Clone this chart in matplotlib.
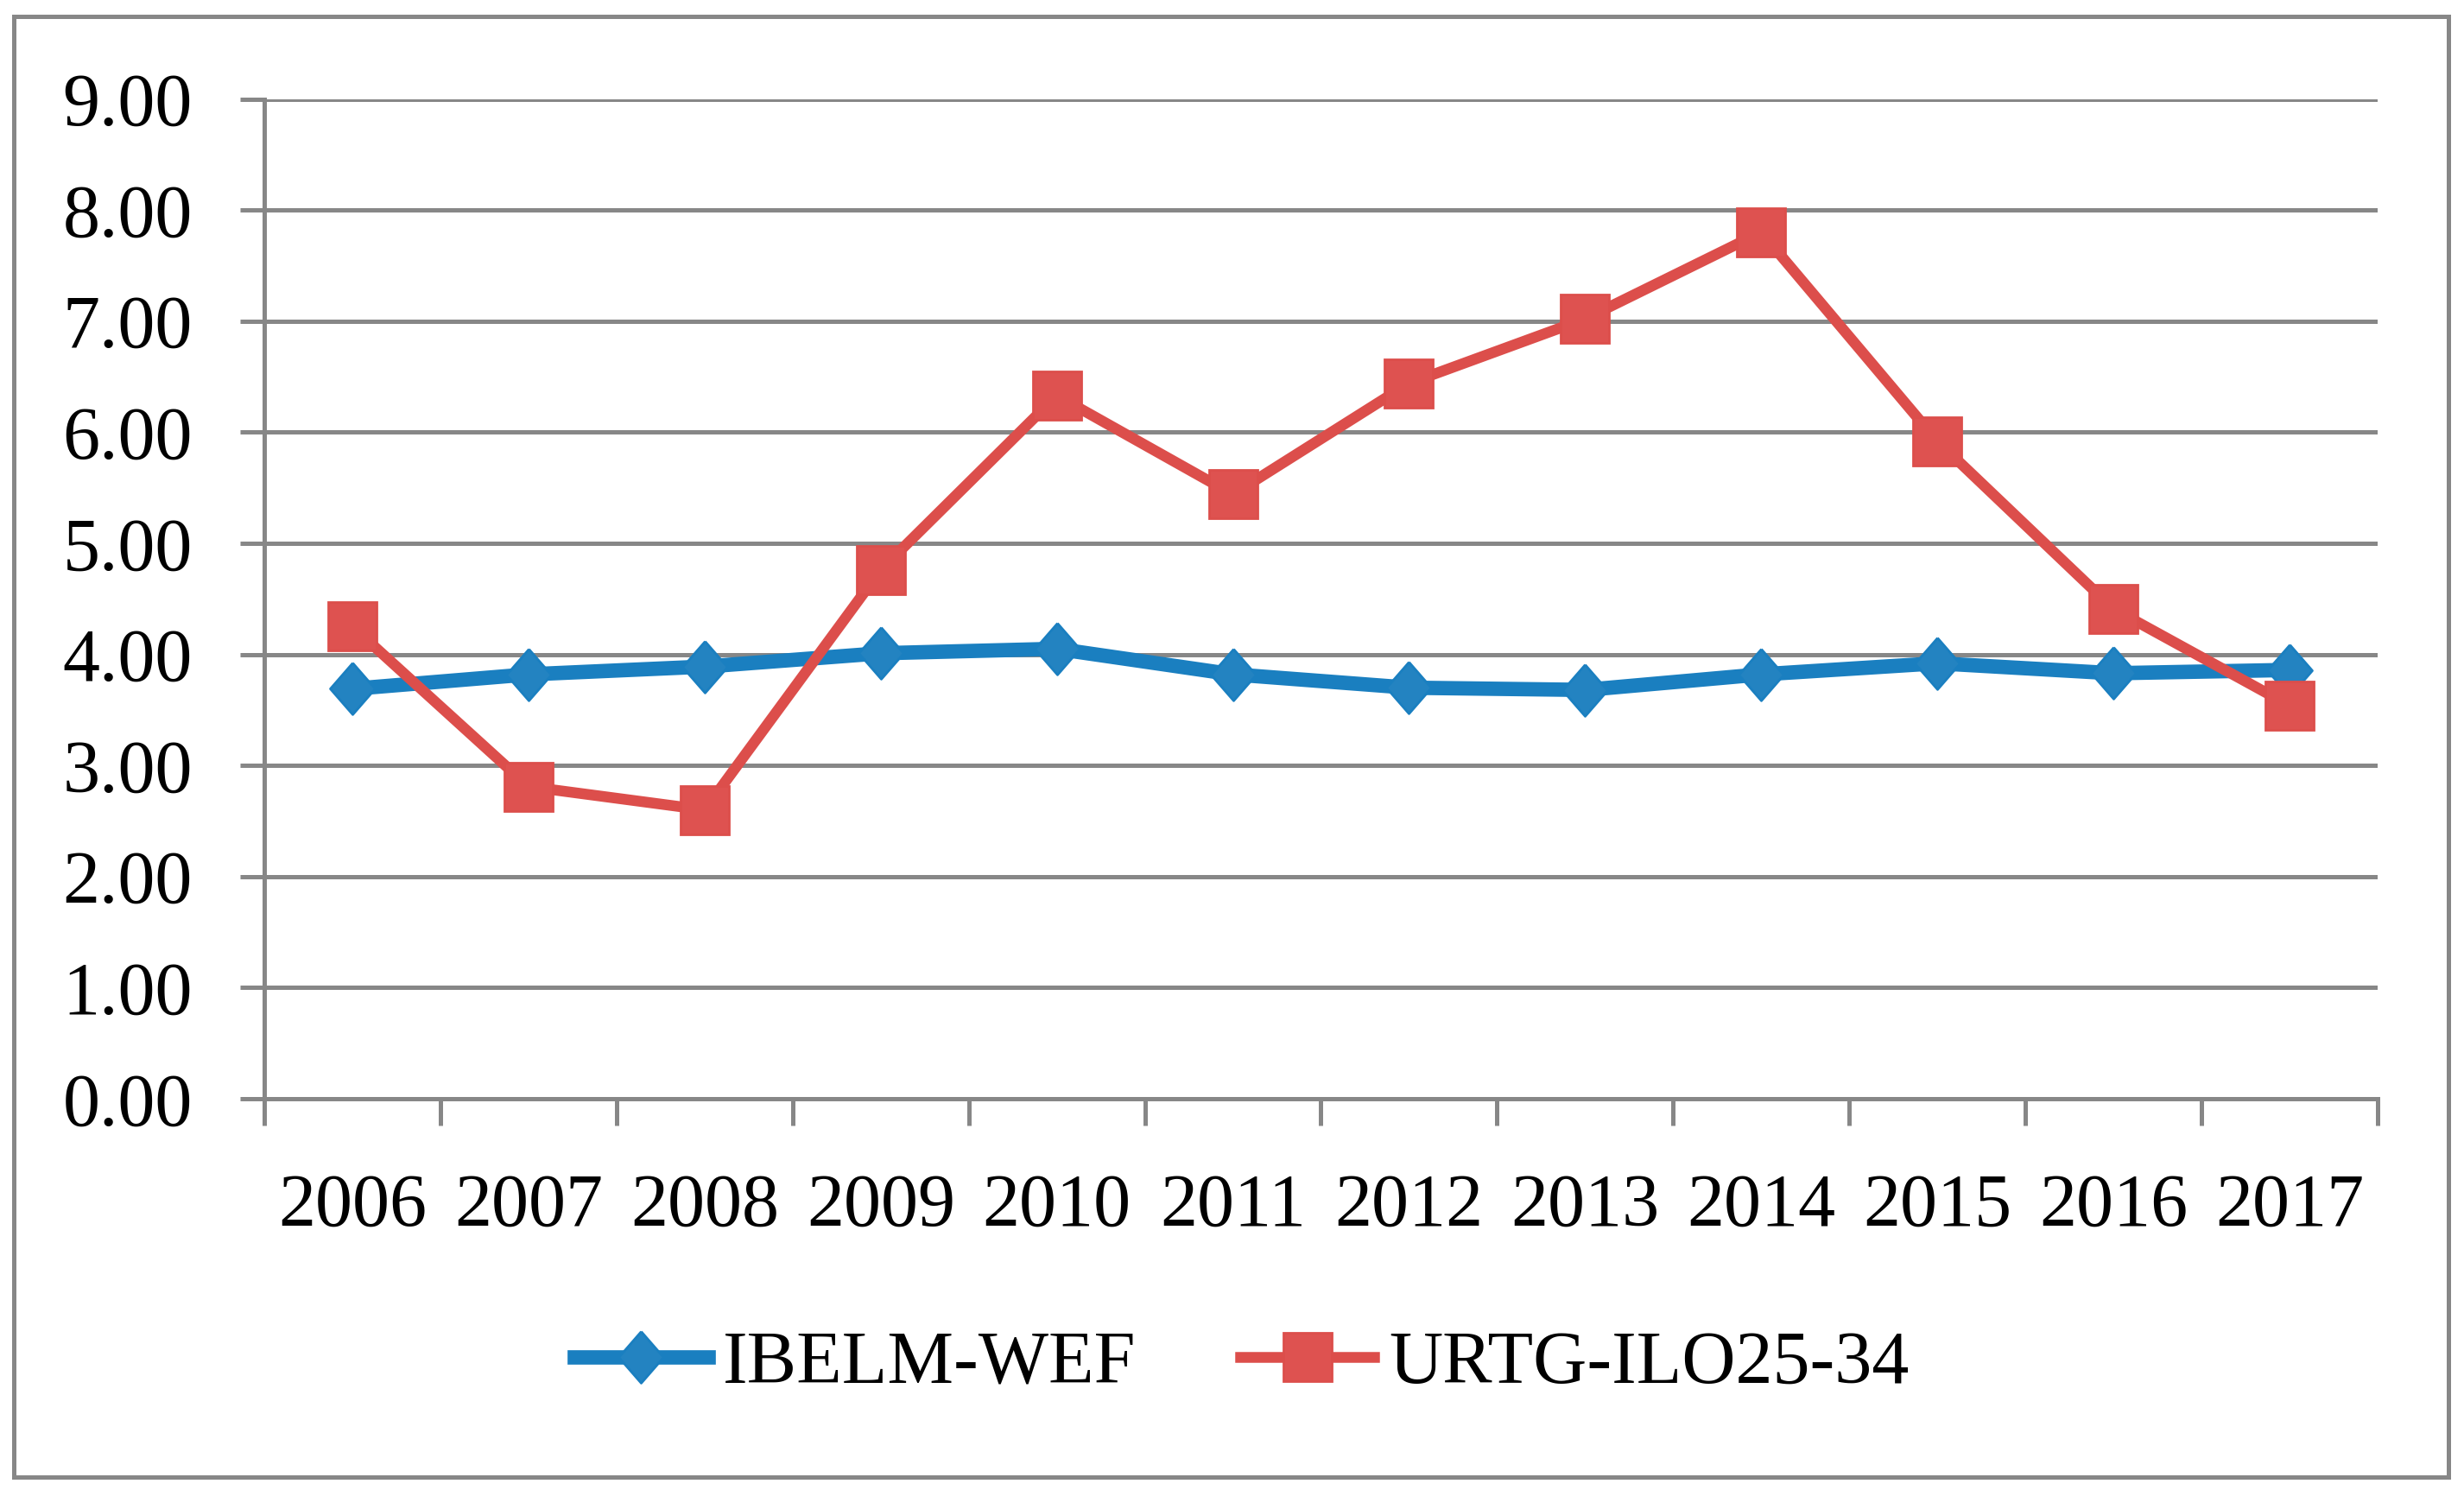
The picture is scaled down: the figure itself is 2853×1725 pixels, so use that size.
import matplotlib
matplotlib.use("Agg")
import matplotlib.pyplot as plt
from matplotlib.lines import Line2D
from matplotlib.patches import Rectangle

# data
years = ["2006", "2007", "2008", "2009", "2010", "2011",
         "2012", "2013", "2014", "2015", "2016", "2017"]
ibelm_wef = [3.69, 3.82, 3.89, 4.01, 4.05, 3.82, 3.70, 3.68, 3.82, 3.92, 3.83, 3.86]
urtg_ilo = [4.25, 2.81, 2.60, 4.76, 6.33, 5.44, 6.44, 7.02, 7.80, 5.92, 4.41, 3.54]
y_ticks = [0, 1, 2, 3, 4, 5, 6, 7, 8, 9]

blue = "#1a7fc0"
red = "#dc4e4b"
grey = "#878787"

plt.rcParams["font.family"] = ["Liberation Serif", "DejaVu Serif"]

# slightly narrow diamond, as in the original
diamond = [(0, 1), (0.87, 0), (0, -1), (-0.87, 0), (0, 1)]

fig = plt.figure(figsize=(28.53, 17.25), dpi=100)
ax = fig.add_axes([0.1073, 0.2626, 0.8576, 0.671])

blue_style = dict(color=blue, lw=12, marker=diamond, ms=43,
                  mfc="#2383c1", mec=blue, mew=2)
red_style = dict(color=red, lw=9, marker="s", ms=41,
                 mfc="#de5250", mec=red, mew=2)

x = [i + 0.5 for i in range(len(years))]
ax.plot(x, ibelm_wef, zorder=3, **blue_style)
ax.plot(x, urtg_ilo, zorder=4, **red_style)

ax.set_xlim(0, len(years))
ax.set_ylim(0, 9)
ax.set_yticks(y_ticks)
ax.set_yticklabels(["%.2f" % v for v in y_ticks])
ax.set_xticks(range(len(years) + 1))
ax.set_xticklabels([])
ax.set_xticks(x, minor=True)
ax.set_xticklabels(years, minor=True)

ax.yaxis.grid(True, color=grey, lw=3.6)
ax.set_axisbelow(True)
for s in ["top", "right"]:
    ax.spines[s].set_visible(False)
for s in ["left", "bottom"]:
    ax.spines[s].set_color(grey)
    ax.spines[s].set_linewidth(3.6)

ax.tick_params(axis="y", length=20, width=3.6, color=grey, pad=40, labelsize=62)
ax.tick_params(axis="x", which="major", length=22, width=3.6, color=grey)
ax.tick_params(axis="x", which="minor", length=0, pad=62, labelsize=62)

handles = [Line2D([], [], **blue_style), Line2D([], [], **red_style)]
fig.legend(handles, ["IBELM-WEF", "URTG-ILO25-34"], loc="center",
           bbox_to_anchor=(0.504, 0.084), ncol=2, frameon=False, fontsize=62,
           handlelength=1.8, handletextpad=0.2, columnspacing=1.4)

# outer chart border
fig.patches.append(Rectangle((0.0056, 0.0087), 0.9881, 0.9803, transform=fig.transFigure,
                             fill=False, edgecolor=grey, lw=3.6))

fig.savefig("out.png", dpi=100)
